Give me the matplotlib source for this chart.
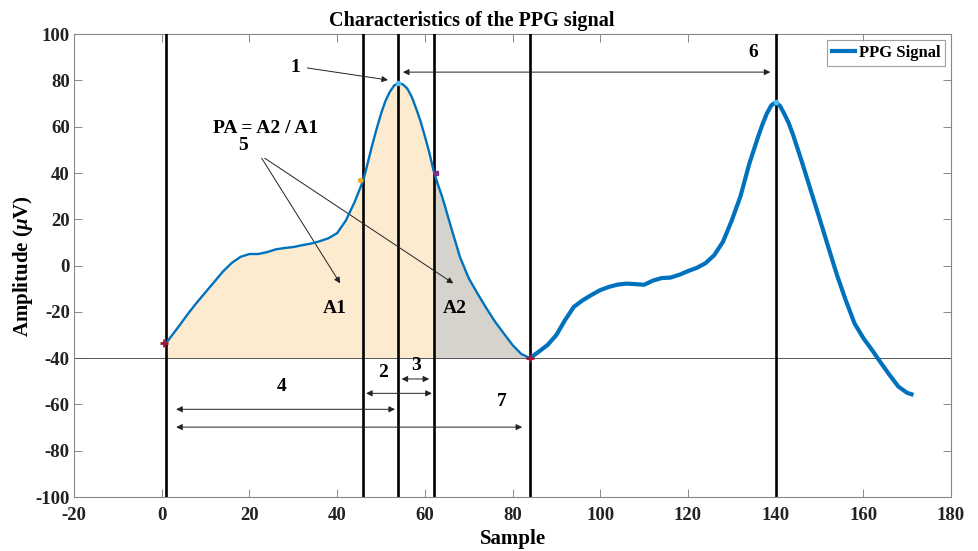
import numpy as np
import matplotlib
matplotlib.use("Agg")
import matplotlib.pyplot as plt

plt.rcParams['font.family'] = ['Liberation Serif', 'DejaVu Serif']
plt.rcParams['font.weight'] = 'bold'
plt.rcParams['axes.titleweight'] = 'bold'
plt.rcParams['axes.labelweight'] = 'bold'
plt.rcParams['axes.unicode_minus'] = False
plt.rcParams['mathtext.fontset'] = 'custom'
plt.rcParams['mathtext.rm'] = 'Liberation Serif:bold'
plt.rcParams['mathtext.it'] = 'Liberation Serif:italic:bold'

# first cycle (onset -> end)
cycle1_x = [1, 2, 4, 6, 8, 10, 12, 14, 16, 18, 20, 22, 24, 26, 28, 30, 32, 34,
            36, 38, 40, 42, 44, 46, 47, 48, 49, 50, 51, 52, 53, 54, 55, 56, 57,
            58, 59, 60, 61, 62, 63, 64, 66, 68, 70, 72, 74, 76, 78, 80, 82, 84]
cycle1_y = [-33.6, -31, -26, -20.8, -16, -11.5, -7, -2.5, 1.2, 3.8, 5, 5, 5.8,
            7, 7.6, 8, 8.8, 9.5, 10.5, 11.8, 14, 19.5, 27.5, 37, 44.5, 52, 59,
            65.5, 71, 75, 77.8, 78.8, 78.3, 76.5, 73, 68, 62.5, 56, 49, 41, 35,
            29.5, 16.5, 3.8, -5.4, -12, -18.3, -24.2, -29.3, -34.3, -38.2, -40]

# second cycle
cycle2_x = [84, 86, 88, 90, 92, 94, 96, 98, 100, 102, 104, 106, 108, 110, 112,
            114, 116, 118, 120, 122, 124, 126, 128, 130, 132, 134, 136, 137,
            138, 139, 140, 141, 142, 143, 144, 146, 148, 150, 152, 154, 156,
            158, 160, 162, 164, 166, 168, 170, 171]
cycle2_y = [-40, -37.2, -34.3, -30, -23.5, -17.8, -15, -12.7, -10.6, -9.2,
            -8.2, -7.8, -8, -8.3, -6.5, -5.4, -5.2, -4, -2.4, -1, 1, 4.5, 10.3,
            19.5, 30, 44, 55.6, 61, 65.7, 69.2, 70.5, 69, 65.5, 61.5, 56.4,
            44.8, 32.6, 20.5, 8.1, -4.1, -15, -25, -31.3, -36.5, -42, -47.3,
            -52.3, -55, -55.6]

# feature positions (samples)
onset, rise, peak1, fall, end, peak2 = 1, 46, 54, 62, 84, 140
baseline = -40

x1 = np.array(cycle1_x)
y1 = np.array(cycle1_y)

fig = plt.figure(figsize=(9.79, 5.51), dpi=100)
ax = fig.add_axes([0.0756, 0.098, 0.8958, 0.840])

# areas A1 / A2
m1 = x1 <= fall
m2 = x1 >= fall
ax.fill_between(x1[m1], y1[m1], baseline, color='#fdebd0', lw=0)
ax.fill_between(x1[m2], y1[m2], baseline, color='#d6d2cc', lw=0)

ax.axhline(baseline, color='#555555', lw=0.7)
for xv in [onset, rise, peak1, fall, end, peak2]:
    ax.axvline(xv, color='black', lw=1.9, zorder=3)

ax.plot(x1, y1, color='#0072bd', lw=1.7, zorder=4, solid_joinstyle='round')
line2, = ax.plot(cycle2_x, cycle2_y, color='#0072bd', lw=3, zorder=4,
                 solid_joinstyle='round', label='PPG Signal')

# feature markers
def yat(xv):
    if xv in cycle1_x:
        return cycle1_y[cycle1_x.index(xv)]
    return cycle2_y[cycle2_x.index(xv)]

ax.plot([onset - 0.5, end], [yat(onset), yat(end)], '+', color='#a2142f',
        ms=6, mew=2, zorder=5)
ax.plot(rise - 0.8, yat(rise), 'o', color='#edb120', ms=3, zorder=5)
ax.plot(fall + 0.5, yat(fall) - 1, 's', color='#7e2f8e', ms=3, zorder=5)
ax.plot([peak1, peak2], [yat(peak1), yat(peak2)], 'o', color='#4dbeee',
        ms=3, zorder=5)

arrow = dict(arrowstyle='-|>', color='#222222', lw=0.7,
             mutation_scale=9, shrinkA=0, shrinkB=0)
darrow = dict(arrowstyle='<|-|>', color='#222222', lw=0.7,
              mutation_scale=9, shrinkA=0, shrinkB=0)

fs = 14
# 1: systolic peak
ax.text(30.4, 85.7, '1', fontsize=fs, ha='center', va='center')
ax.annotate('', xy=(51.6, 80.2), xytext=(33.2, 85.4), arrowprops=arrow)
# 6: peak to peak
ax.text(135, 92, '6', fontsize=fs, ha='center', va='center')
ax.annotate('', xy=(55, 83.6), xytext=(138.8, 83.6), arrowprops=darrow)
# 5: pulse area
ax.text(23.6, 59.4, 'PA = A2 / A1', fontsize=fs, ha='center', va='center')
ax.text(18.5, 52, '5', fontsize=fs, ha='center', va='center')
ax.annotate('', xy=(40.7, -7.7), xytext=(22.8, 46.4), arrowprops=arrow)
ax.annotate('', xy=(66.5, -7.7), xytext=(23.5, 46.4), arrowprops=arrow)
ax.text(39.5, -18.5, 'A1', fontsize=fs, ha='center', va='center')
ax.text(66.9, -18.5, 'A2', fontsize=fs, ha='center', va='center')
# 2, 3, 4, 7: time intervals
ax.text(50.5, -46, '2', fontsize=fs, ha='center', va='center')
ax.annotate('', xy=(46.6, -55.2), xytext=(61.6, -55.2), arrowprops=darrow)
ax.text(58.1, -43, '3', fontsize=fs, ha='center', va='center')
ax.annotate('', xy=(54.7, -49), xytext=(61, -49), arrowprops=darrow)
ax.text(27.4, -52.3, '4', fontsize=fs, ha='center', va='center')
ax.annotate('', xy=(3.3, -62.1), xytext=(53.2, -62.1), arrowprops=darrow)
ax.text(77.5, -58.8, '7', fontsize=fs, ha='center', va='center')
ax.annotate('', xy=(3.3, -69.8), xytext=(82.2, -69.8), arrowprops=darrow)

ax.set_xlim(-20, 180)
ax.set_ylim(-100, 100)
ax.set_xticks(np.arange(-20, 181, 20))
ax.set_yticks(np.arange(-100, 101, 20))
ax.tick_params(direction='in', top=True, right=True, length=6, width=0.7,
               color='#888888', labelsize=13.5, labelcolor='#222222', pad=3)
ax.tick_params(axis='x', pad=7)
for s in ax.spines.values():
    s.set_color('#888888')
    s.set_linewidth(0.8)

ax.set_xlabel('Sample', fontsize=15, labelpad=4)
ax.set_ylabel(r'Amplitude ($\mu$V)', fontsize=15, labelpad=0)
ax.set_title('Characteristics of the PPG signal', fontsize=14.5, x=0.454, pad=6)

leg = ax.legend(handles=[line2], loc='upper right', fontsize=12,
                fancybox=False, borderaxespad=0.35, handlelength=1.4,
                borderpad=0.3, handletextpad=0.2)
leg.get_frame().set_edgecolor('#888888')
leg.get_frame().set_linewidth(0.8)

fig.savefig('out.png', dpi=100)
